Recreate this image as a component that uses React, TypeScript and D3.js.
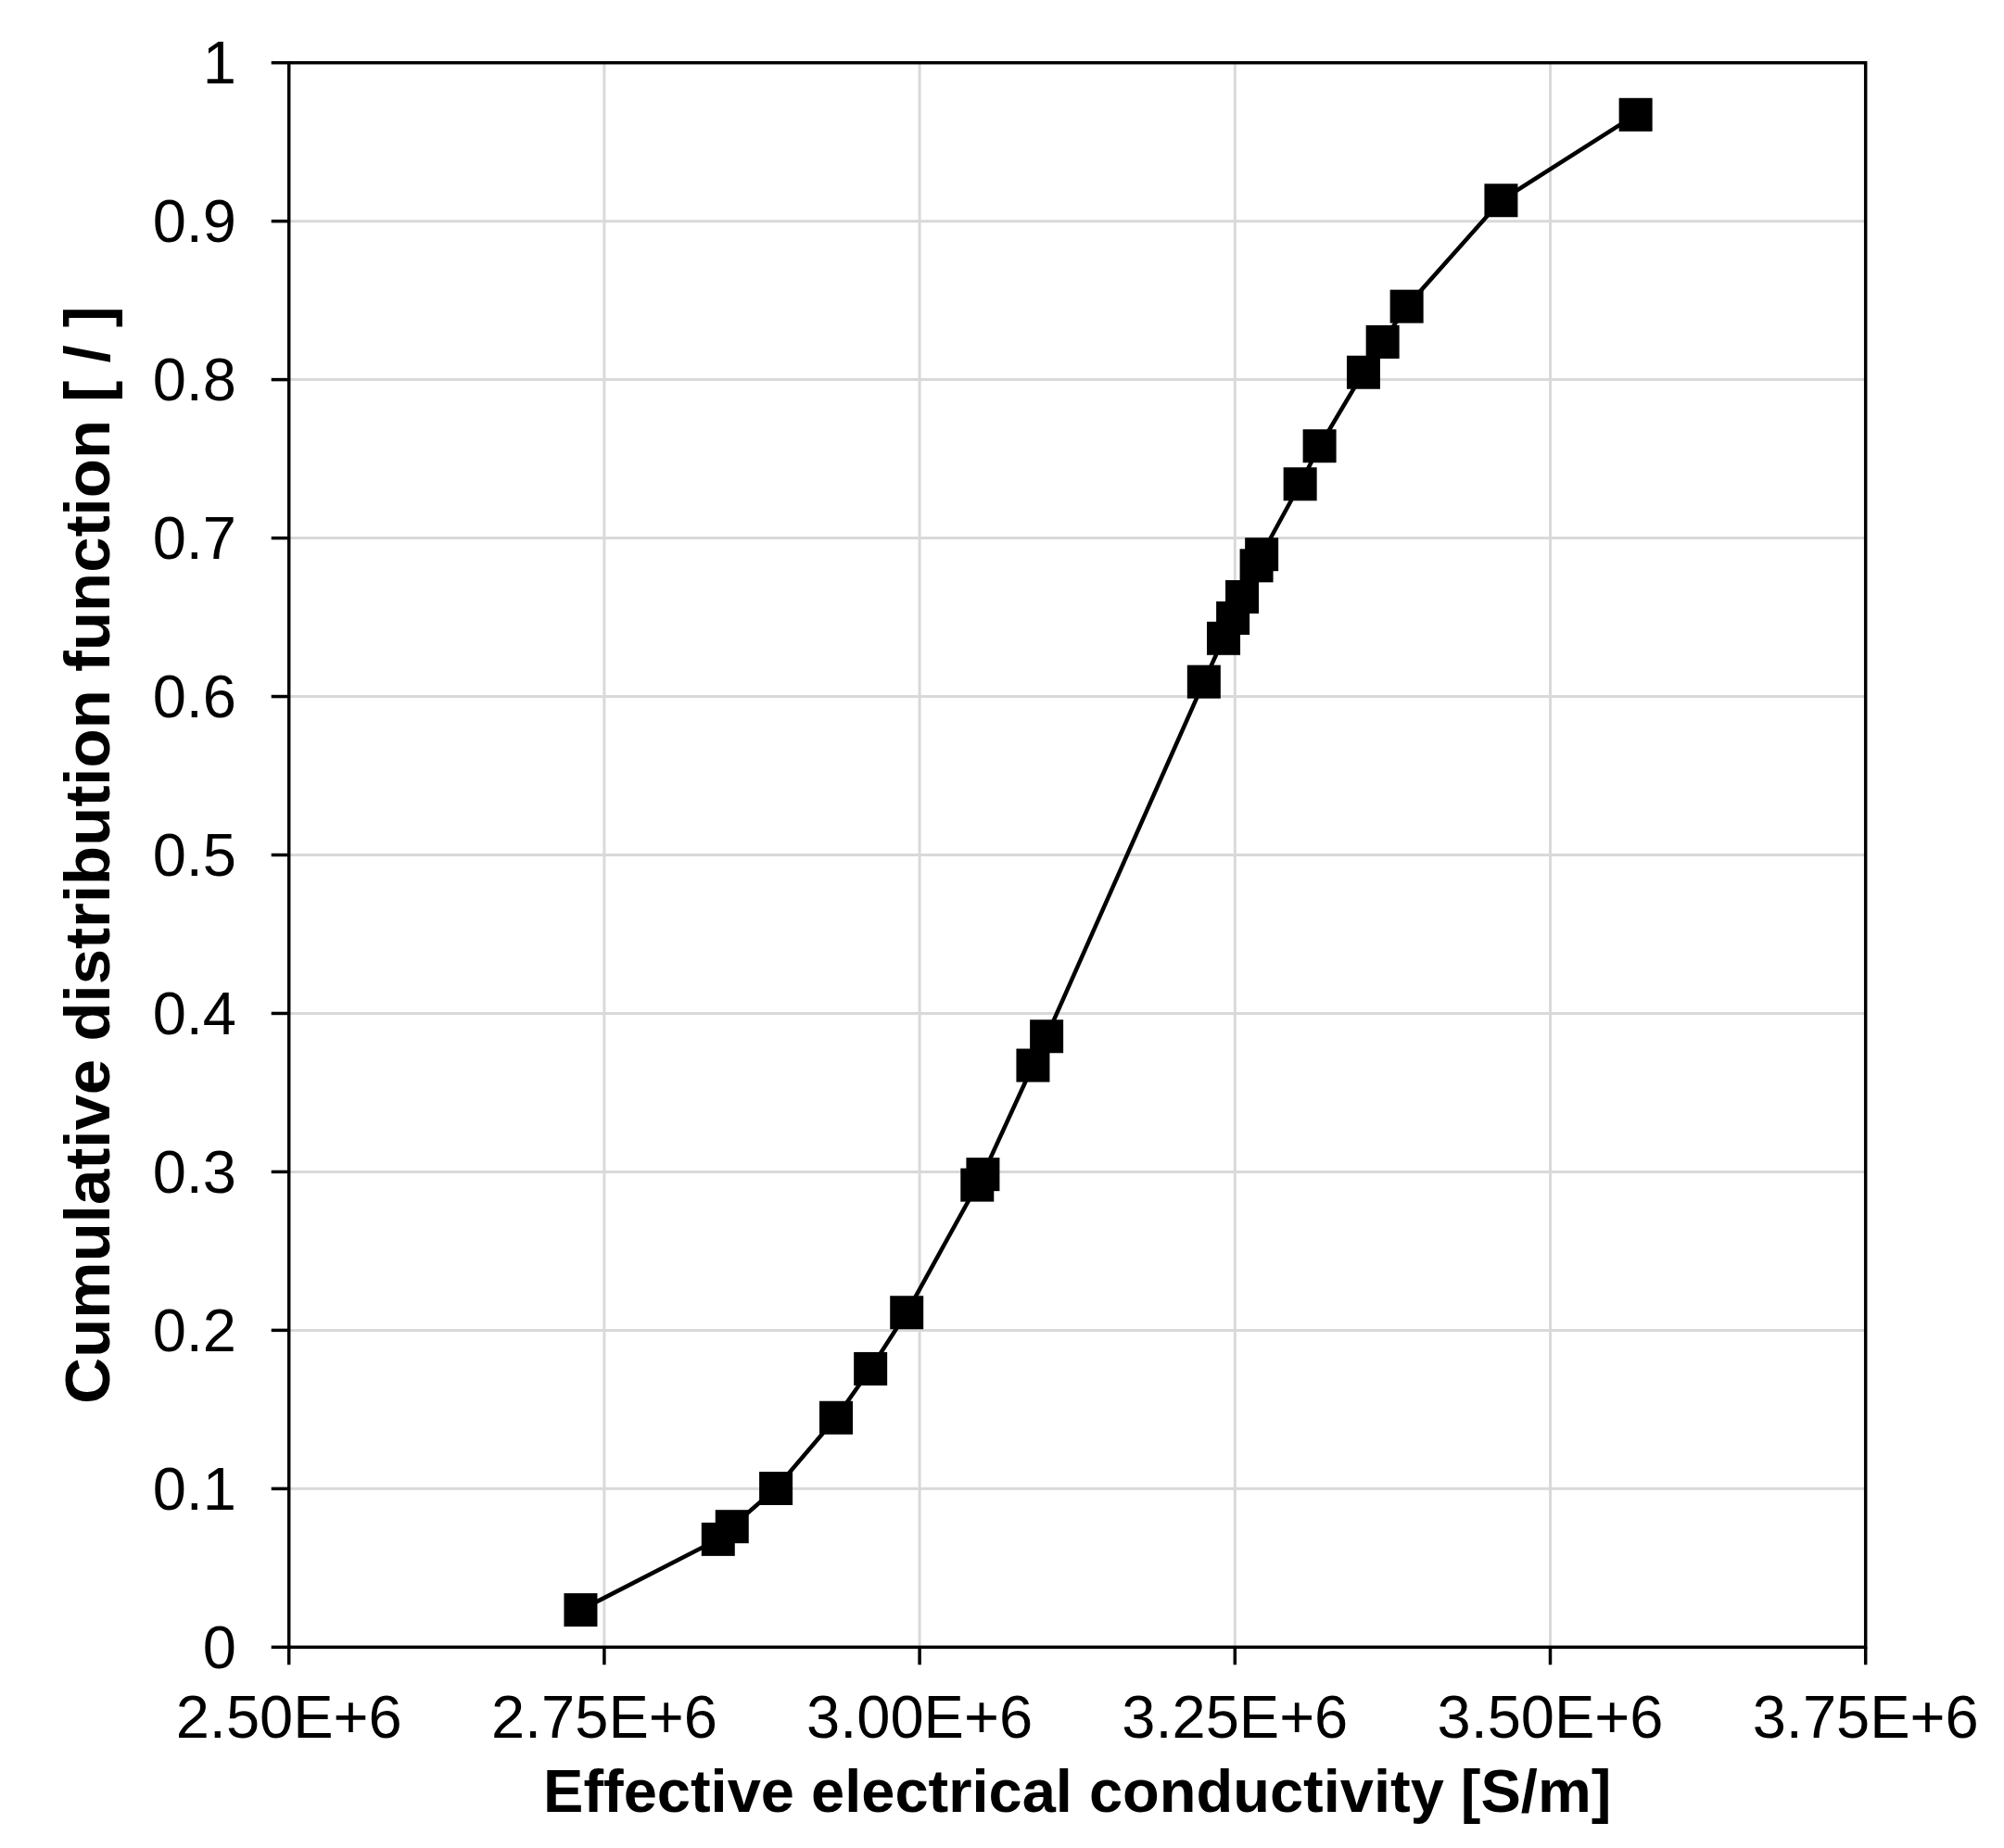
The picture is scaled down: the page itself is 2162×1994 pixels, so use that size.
import React, { useEffect, useRef } from "react";
import * as d3 from "d3";

const conductivity = [
  2.7313e6, 2.8403e6, 2.8513e6, 2.8861e6, 2.9338e6, 2.9611e6, 2.9898e6, 3.0457e6,
  3.0502e6, 3.0899e6, 3.1007e6, 3.2254e6, 3.241e6, 3.2484e6, 3.2557e6, 3.2671e6,
  3.2712e6, 3.3017e6, 3.3171e6, 3.3519e6, 3.3671e6, 3.3862e6, 3.461e6, 3.5677e6,
];
const cdf = [
  0.0235, 0.0681, 0.0761, 0.1002, 0.1448, 0.1757, 0.2112, 0.2917,
  0.2984, 0.3672, 0.3855, 0.6093, 0.6367, 0.6495, 0.6629, 0.6826,
  0.6897, 0.7341, 0.7581, 0.8046, 0.8238, 0.8462, 0.9131, 0.9672,
];
const xTicks = [2.5e6, 2.75e6, 3.0e6, 3.25e6, 3.5e6, 3.75e6];
const xTickLabels = ["2.50E+6", "2.75E+6", "3.00E+6", "3.25E+6", "3.50E+6", "3.75E+6"];
const yTicks = [0, 0.1, 0.2, 0.3, 0.4, 0.5, 0.6, 0.7, 0.8, 0.9, 1];
const yTickLabels = ["0", "0.1", "0.2", "0.3", "0.4", "0.5", "0.6", "0.7", "0.8", "0.9", "1"];
const xTitle = "Effective electrical  conductivity [S/m]";
const yTitle = "Cumulative distribution function [ / ]";

const W = 2162;
const H = 1994;
const left = 311.7;
const right = 2012.7;
const top = 67.7;
const bottom = 1777.3;
const FONT = "'Liberation Sans', Arial, sans-serif";

export default function App() {
  const ref = useRef<SVGSVGElement>(null);

  useEffect(() => {
    const svg = d3.select(ref.current);
    svg.selectAll("*").remove();

    const x = d3.scaleLinear().domain([2.5e6, 3.75e6]).range([left, right]);
    const y = d3.scaleLinear().domain([0, 1]).range([bottom, top]);

    svg.append("rect").attr("width", W).attr("height", H).attr("fill", "#fff");

    // gridlines
    const grid = svg.append("g").attr("stroke", "#d9d9d9").attr("stroke-width", 3);
    xTicks.slice(1, -1).forEach((t) => {
      grid.append("line").attr("x1", x(t)).attr("x2", x(t)).attr("y1", top).attr("y2", bottom);
    });
    yTicks.slice(1, -1).forEach((t) => {
      grid.append("line").attr("x1", left).attr("x2", right).attr("y1", y(t)).attr("y2", y(t));
    });

    // frame
    svg
      .append("rect")
      .attr("x", left)
      .attr("y", top)
      .attr("width", right - left)
      .attr("height", bottom - top)
      .attr("fill", "none")
      .attr("stroke", "#000")
      .attr("stroke-width", 3.5);

    // ticks
    const ticks = svg.append("g").attr("stroke", "#000").attr("stroke-width", 3.5);
    xTicks.forEach((t) => {
      ticks.append("line").attr("x1", x(t)).attr("x2", x(t)).attr("y1", bottom).attr("y2", bottom + 19);
    });
    yTicks.forEach((t) => {
      ticks.append("line").attr("x1", left - 19).attr("x2", left).attr("y1", y(t)).attr("y2", y(t));
    });

    // tick labels
    xTicks.forEach((t, i) => {
      svg
        .append("text")
        .attr("x", x(t))
        .attr("y", 1875)
        .attr("text-anchor", "middle")
        .attr("font-family", FONT)
        .attr("font-size", 65)
        .attr("fill", "#000")
        .text(xTickLabels[i]);
    });
    yTicks.forEach((t, i) => {
      svg
        .append("text")
        .attr("x", 255)
        .attr("y", y(t))
        .attr("dy", "0.35em")
        .attr("text-anchor", "end")
        .attr("font-family", FONT)
        .attr("font-size", 65)
        .attr("fill", "#000")
        .text(yTickLabels[i]);
    });

    // titles
    svg
      .append("text")
      .attr("x", (left + right) / 2)
      .attr("y", 1955)
      .attr("text-anchor", "middle")
      .attr("font-family", FONT)
      .attr("font-weight", "bold")
      .attr("font-size", 65)
      .attr("fill", "#000")
      .text(xTitle);
    svg
      .append("text")
      .attr("transform", `translate(118, ${(top + bottom) / 2}) rotate(-90)`)
      .attr("text-anchor", "middle")
      .attr("font-family", FONT)
      .attr("font-weight", "bold")
      .attr("font-size", 69)
      .attr("fill", "#000")
      .text(yTitle);

    // series
    const pts = conductivity.map((c, i) => [c, cdf[i]] as [number, number]);
    const line = d3
      .line<[number, number]>()
      .x((d) => x(d[0]))
      .y((d) => y(d[1]));
    svg
      .append("path")
      .attr("d", line(pts))
      .attr("fill", "none")
      .attr("stroke", "#000")
      .attr("stroke-width", 4.5);

    const s = 36;
    svg
      .append("g")
      .selectAll("rect")
      .data(pts)
      .join("rect")
      .attr("x", (d) => x(d[0]) - s / 2)
      .attr("y", (d) => y(d[1]) - s / 2)
      .attr("width", s)
      .attr("height", s)
      .attr("fill", "#000");
  }, []);

  return (
    <svg
      ref={ref}
      width={W}
      height={H}
      style={{ position: "absolute", left: 0, top: 0, display: "block" }}
    />
  );
}
